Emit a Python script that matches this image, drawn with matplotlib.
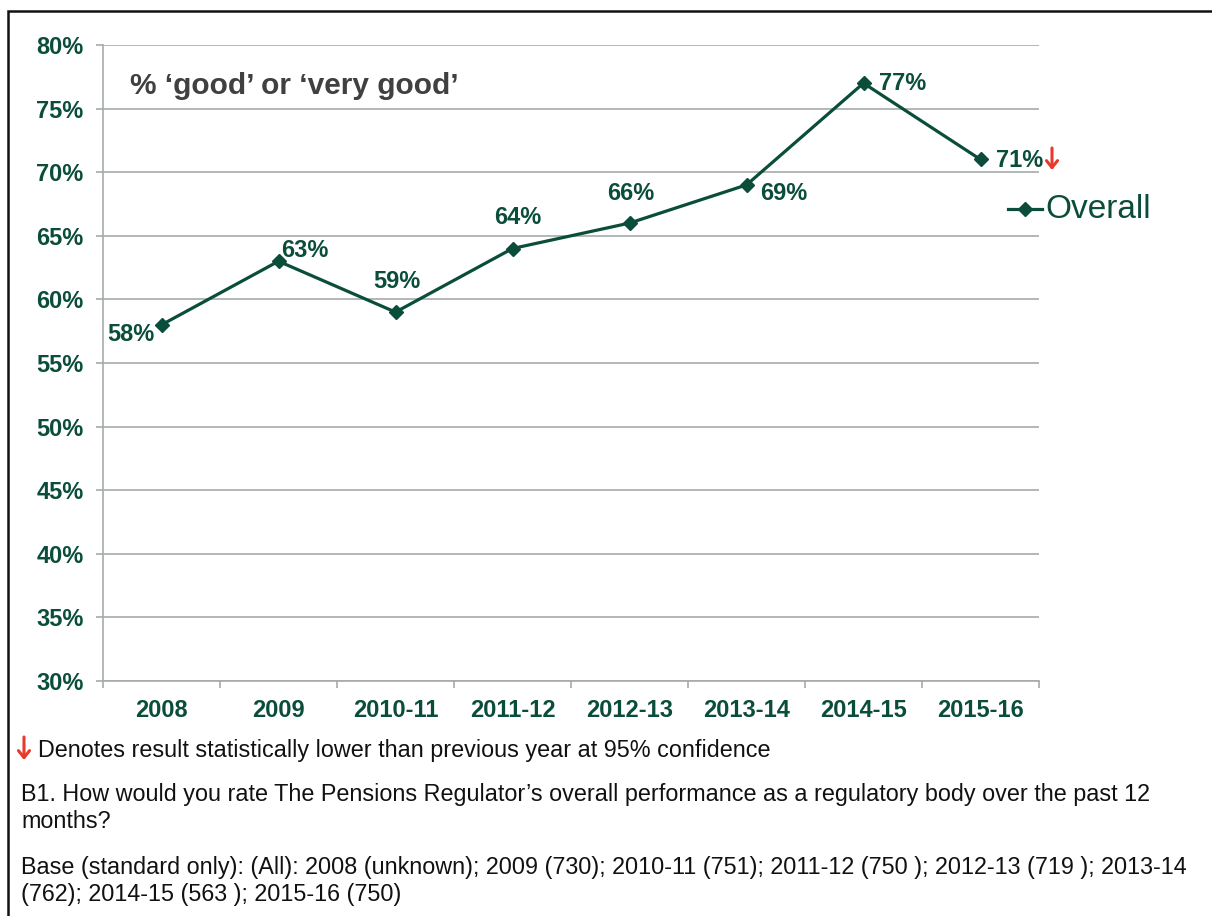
import matplotlib
matplotlib.use("Agg")
import matplotlib.pyplot as plt
from matplotlib.patches import Rectangle, FancyArrowPatch
from matplotlib.lines import Line2D

plt.rcParams['font.family'] = ['Liberation Sans', 'DejaVu Sans']

# Survey waves and share rating performance 'good' or 'very good'
years = ["2008", "2009", "2010-11", "2011-12", "2012-13", "2013-14", "2014-15", "2015-16"]
overall = [58, 63, 59, 64, 66, 69, 77, 71]
y_ticks = [30, 35, 40, 45, 50, 55, 60, 65, 70, 75, 80]
series_name = "Overall"
chart_title = "% \u2018good\u2019 or \u2018very good\u2019"
note_text = "Denotes result statistically lower than previous year at 95% confidence"
question_text = ("B1. How would you rate The Pensions Regulator\u2019s overall performance as a regulatory body over the past 12\n"
                 "months?")
base_text = ("Base (standard only): (All): 2008 (unknown); 2009 (730); 2010-11 (751); 2011-12 (750 ); 2012-13 (719 ); 2013-14\n"
             "(762); 2014-15 (563 ); 2015-16 (750)")

GREEN = "#0b4d3b"
GRID = "#a6aaa8"
RED = "#e8392b"

W, H = 1212, 916
fig = plt.figure(figsize=(W / 100, H / 100), dpi=100)

# Outer frame of the slide panel
fig.patches.append(Rectangle((8 / W, -0.1), 1.2, 1 - 11 / H + 0.1, transform=fig.transFigure,
                             fill=False, edgecolor="#111111", linewidth=1.8))

ax = fig.add_axes([103 / W, 1 - 681 / H, (1039 - 103) / W, (681 - 45) / H])
x = list(range(len(years)))
ax.plot(x, overall, color=GREEN, linewidth=2.3, marker="D", markersize=7,
        markerfacecolor=GREEN, markeredgecolor=GREEN, zorder=3)

ax.set_xlim(-0.5, len(years) - 0.5)
ax.set_ylim(y_ticks[0], y_ticks[-1])
ax.set_yticks(y_ticks)
ax.set_yticklabels([f"{v}%" for v in y_ticks])
ax.yaxis.grid(True, color=GRID, linewidth=1.2)
ax.set_axisbelow(True)

ax.set_xticks(x)
ax.set_xticklabels(years)
ax.set_xticks([i - 0.5 for i in range(len(years) + 1)], minor=True)
ax.tick_params(axis="x", which="major", length=0, pad=13)
ax.tick_params(axis="x", which="minor", length=5, color=GRID, width=1.2, direction="out")
ax.tick_params(axis="y", length=5, color=GRID, width=1.2, pad=9)
for lab in ax.get_xticklabels() + ax.get_yticklabels():
    lab.set_fontsize(17)
    lab.set_fontweight("bold")
    lab.set_color(GREEN)

for side in ("top", "right"):
    ax.spines[side].set_visible(False)
for side in ("left", "bottom"):
    ax.spines[side].set_color(GRID)
    ax.spines[side].set_linewidth(1.2)

# Value labels, offsets in points
offsets = [(-22, -7), (19, 8), (1, 22), (4, 22), (1, 21), (27, -6), (28, 0), (28, -1)]
for xi, v, (dx, dy) in zip(x, overall, offsets):
    ax.annotate(f"{v}%", (xi, v), xytext=(dx, dy), textcoords="offset points",
                ha="center", va="center", fontsize=17, fontweight="bold", color=GREEN)


def down_arrow(px, top, bottom):
    """Red open-headed arrow marking a significant fall (pixel positions)."""
    fig.add_artist(FancyArrowPatch((px / W, 1 - top / H), (px / W, 1 - bottom / H),
                                   transform=fig.transFigure,
                                   arrowstyle="->,head_length=5,head_width=4",
                                   color=RED, linewidth=2.2, shrinkA=0, shrinkB=0))


# Significance arrow after the last value, and in the key below the chart
down_arrow(1052, 148, 170)
down_arrow(24, 737, 760)

ax.text(130 / W, 1 - 86 / H, chart_title, transform=fig.transFigure, fontsize=21.5,
        fontweight="bold", color="#404040", va="center", ha="left")

# Legend
fig.add_artist(Line2D([1008 / W, 1042 / W], [1 - 209 / H] * 2, transform=fig.transFigure,
                      color=GREEN, linewidth=2.3))
fig.add_artist(Line2D([1025 / W], [1 - 209 / H], transform=fig.transFigure,
                      color=GREEN, marker="D", markersize=7, linestyle="none"))
fig.text(1045 / W, 1 - 210 / H, series_name, fontsize=24, color=GREEN, va="center", ha="left")

# Footer notes
fig.text(38 / W, 1 - 750 / H, note_text, fontsize=16.8, color="#111111", va="center", ha="left")
fig.text(21 / W, 1 - 783 / H, question_text, fontsize=16.8, color="#111111", va="top", ha="left",
         linespacing=1.22)
fig.text(21 / W, 1 - 856 / H, base_text, fontsize=16.8, color="#111111", va="top", ha="left",
         linespacing=1.22)

fig.savefig("out.png", dpi=100)
